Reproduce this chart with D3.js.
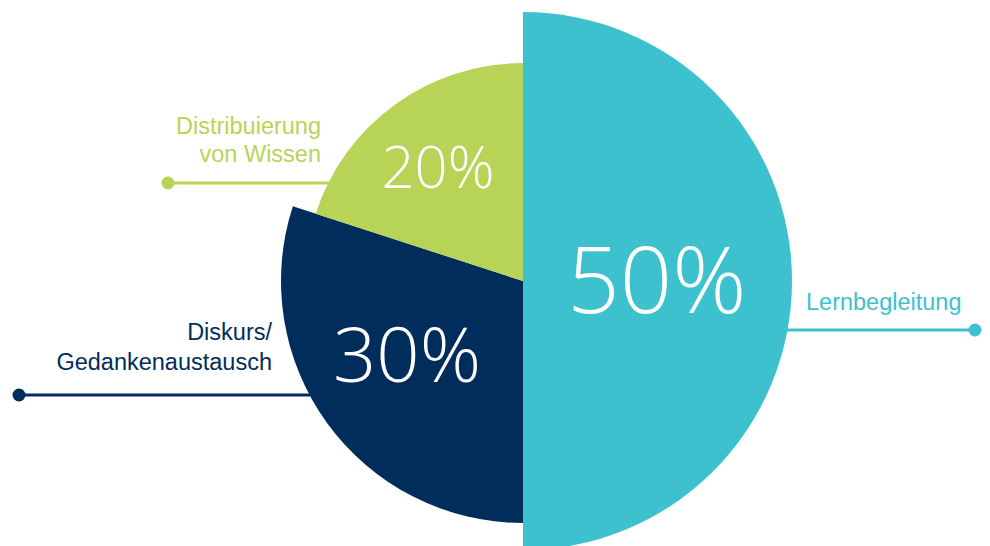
<!DOCTYPE html>
<html>
  <head>
    <meta charset="utf-8">
    <script src="https://cdn.jsdelivr.net/npm/d3@7"></script>
    <style>
      body { margin: 0; background: #fff; }
      text.pct { font-family: "Open Sans", "Lato", sans-serif; }
      text.lbl { font-family: "Liberation Sans", "Helvetica", sans-serif; }
    </style>
  </head>
  <body>
    <div id="vis"></div>
    <script type="text/javascript">

        // data
        const categories = ["Lernbegleitung", "Diskurs/Gedankenaustausch", "Distribuierung von Wissen"];
        const values = [50, 30, 20];
        const labelLines = [["Lernbegleitung"], ["Diskurs/", "Gedankenaustausch"], ["Distribuierung", "von Wissen"]];
        const colors = ["#3ec1cf", "#002d5b", "#b7d456"];

        const width = 990, height = 546;
        const cx = 523, cy = 281;
        const outerR = [269, 242, 218];

        const svg = d3.select("#vis")
            .append("svg")
            .attr("width", width)
            .attr("height", height);

        const pie = d3.pie().sort(null).value(d => d);
        const arcs = pie(values);

        const g = svg.append("g").attr("transform", `translate(${cx},${cy})`);

        g.selectAll("path.slice")
            .data(arcs)
            .enter()
            .append("path")
            .attr("class", "slice")
            .attr("fill", (d, i) => colors[i])
            .attr("d", (d, i) => d3.arc().innerRadius(0).outerRadius(outerR[i])(d));

        // percent labels inside
        const pctSize = [92, 76, 58];
        const pctPos = [[134, -4], [-116, 71], [-85, -116]];

        g.selectAll("text.pct")
            .data(arcs)
            .enter()
            .append("text")
            .attr("class", "pct")
            .attr("x", (d, i) => pctPos[i][0])
            .attr("y", (d, i) => pctPos[i][1])
            .attr("text-anchor", "middle")
            .attr("dominant-baseline", "central")
            .attr("fill", "#fff")
            .attr("font-weight", 300)
            .attr("font-size", (d, i) => pctSize[i])
            .text(d => d.data + "%");

        // leader lines with dots
        const leaders = [
            {y: 330, x1: 780, x2: 975, anchor: "start", tx: 806, ty: [310]},
            {y: 395, x1: 310, x2: 19, anchor: "end", tx: 272, ty: [340, 370]},
            {y: 183, x1: 330, x2: 168, anchor: "end", tx: 321, ty: [134, 162]}
        ];

        leaders.forEach((l, i) => {
            svg.append("line")
                .attr("x1", l.x1).attr("x2", l.x2)
                .attr("y1", l.y).attr("y2", l.y)
                .attr("stroke", colors[i])
                .attr("stroke-width", 3);
            svg.append("circle")
                .attr("cx", l.x2).attr("cy", l.y)
                .attr("r", 6.5)
                .attr("fill", colors[i]);
            svg.append("text")
                .attr("class", "lbl")
                .attr("text-anchor", l.anchor)
                .attr("fill", colors[i])
                .attr("font-size", 23.5)
                .selectAll("tspan")
                .data(labelLines[i])
                .enter()
                .append("tspan")
                .attr("x", l.tx)
                .attr("y", (d, j) => l.ty[j])
                .text(d => d);
        });

        // slices over line ends
        g.raise();
        svg.selectAll("line").lower();

    </script>
  </body>
</html>
